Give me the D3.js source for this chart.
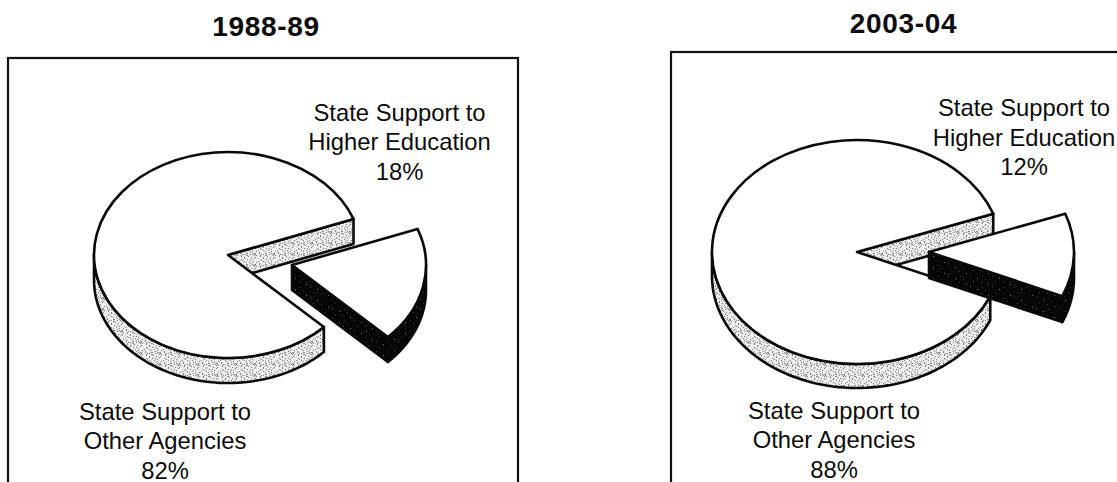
<!DOCTYPE html>
<html><head><meta charset="utf-8">
<style>html,body{margin:0;padding:0;background:#fff}svg{display:block}
text{font-family:"Liberation Sans",Arial,sans-serif;fill:#0c0c0c;text-anchor:middle}</style>
<script src="https://cdnjs.cloudflare.com/ajax/libs/d3/7.8.5/d3.min.js"></script>
</head><body><svg id="c" width="1117" height="482"></svg>
<script>
const years = ["1988-89", "2003-04"];
const higherEdShare = [18, 12];
const otherShare = [82, 88];
const higherLabel = ["State Support to", "Higher Education"];
const otherLabel = ["State Support to", "Other Agencies"];

const layout = [
  {title:[266,35.5], frame:[8,58,510,460], c:[228,255], rx:134, ry:103, depth:25, sliceDepth:25, off:[64,10], start:69.5, hi:[399.5,120.5], ot:[165,419.5], fs:23.8},
  {title:[903.5,32.7], frame:[671,52,480,470], c:[857,252], rx:145, ry:112, depth:24, sliceDepth:26, off:[72,0], start:70, hi:[1024,116], ot:[834,418.5], fs:23.8}
];

const svg = d3.select("#c");
const defs = svg.append("defs");
function stipple(id, base, dark, light, rows){
  const w = rows[0].length, h = rows.length;
  const p = defs.append("pattern").attr("id",id).attr("width",w).attr("height",h).attr("patternUnits","userSpaceOnUse");
  p.append("rect").attr("width",w).attr("height",h).attr("fill",base);
  rows.forEach((r,y)=>[...r].forEach((ch,x)=>{
    if(ch===" ") return;
    p.append("rect").attr("x",x).attr("y",y).attr("width",1).attr("height",1).attr("fill",ch==="#"?dark:light);
  }));
}
stipple("gray","#e6e6e6","#858585","#ffffff",[
  "#  . # ## . #  .  #",
  " . #  # #  .  # #  ",
  "#   .  # #   #   .#",
  " # .  .   .  # .   ",
  ".   #   #  .  . # .",
  "  .  . # .   .  #  ",
  "#  #    .  . #   . ",
  " .   # .  .   #  . ",
  "  # .   .  #  . #  ",
  ".    #.  # .  .   #",
  " . #   .    #   .  "
]);
stipple("dark","#060606","#777777","#3c3c3c",[
  "                      ",
  "  .           .       ",
  "                      ",
  "         #            ",
  "                 .    ",
  "                      ",
  "     .                ",
  "             .        ",
  "                      ",
  "                    # ",
  "  .                   "
]);

const rad = d => d*Math.PI/180;
const pie = d3.pie().sort(null);
const arc = d3.arc().innerRadius(0);
const lineGen = d3.line();
const ink = "#0a0a0a";

years.forEach((year,i)=>{
  const L = layout[i], g = svg.append("g");
  const sx = d3.scaleLinear().domain([-1,1]).range([-L.rx,L.rx]);
  const sy = d3.scaleLinear().domain([-1,1]).range([-L.ry,L.ry]);
  const pt = (a,c,dz)=>[c[0]+sx(Math.sin(a)), c[1]-sy(Math.cos(a))+dz];

  g.append("rect").attr("x",L.frame[0]).attr("y",L.frame[1]).attr("width",L.frame[2]).attr("height",L.frame[3])
    .attr("fill","none").attr("stroke","#111").attr("stroke-width",2.2);
  g.append("text").attr("x",L.title[0]).attr("y",L.title[1]).attr("font-weight","bold").attr("font-size",28).attr("letter-spacing",0.7).text(year);

  const s0 = rad(L.start);
  const arcs = pie.startAngle(s0).endAngle(s0+2*Math.PI)([higherEdShare[i],otherShare[i]]);
  const hi = arcs[0], ot = arcs[1];
  const cS = [L.c[0]+L.off[0], L.c[1]+L.off[1]];

  function wall(c,a0,a1,fill,dz){
    const from = Math.max(a0,Math.PI/2), to = Math.min(a1,3*Math.PI/2);
    const t = d3.range(0,73).map(k=>from+(to-from)*k/72);
    const pts = t.map(a=>pt(a,c,0)).concat(t.slice().reverse().map(a=>pt(a,c,dz)));
    g.append("path").attr("d",lineGen(pts)+"Z").attr("fill",fill).attr("stroke",ink).attr("stroke-width",2.6).attr("stroke-linejoin","round");
  }
  function cut(c,a,fill,dz){
    const p=pt(a,c,0), q=pt(a,c,dz);
    const pts=[c,p,q,[c[0],c[1]+dz]];
    g.append("path").attr("d",lineGen(pts)+"Z").attr("fill",fill).attr("stroke",ink).attr("stroke-width",2.6).attr("stroke-linejoin","round");
  }
  function top(c,d){
    g.append("path").attr("transform",`translate(${c[0]},${c[1]}) scale(1,${L.ry/L.rx})`)
      .attr("d",arc.outerRadius(L.rx)(d)).attr("fill","#fff").attr("stroke",ink).attr("stroke-width",2.6)
      .attr("stroke-linejoin","round").attr("vector-effect","non-scaling-stroke");
  }
  // Other-agencies slice
  cut(L.c,ot.endAngle,"url(#gray)",L.depth);
  wall(L.c,ot.startAngle,ot.endAngle,"url(#gray)",L.depth);
  top(L.c,ot);
  // Exploded higher-education slice
  wall(cS,hi.startAngle,hi.endAngle,"url(#dark)",L.sliceDepth);
  cut(cS,hi.endAngle,"url(#dark)",L.sliceDepth);
  top(cS,hi);

  function label(pos,lines,val){
    const t = g.append("text").attr("x",pos[0]).attr("y",pos[1]).attr("font-size",L.fs);
    lines.concat([val+"%"]).forEach((s,k)=>t.append("tspan").attr("x",pos[0]).attr("dy",k?29.5:0).text(s));
  }
  label(L.hi,higherLabel,higherEdShare[i]);
  label(L.ot,otherLabel,otherShare[i]);
});
</script></body></html>
